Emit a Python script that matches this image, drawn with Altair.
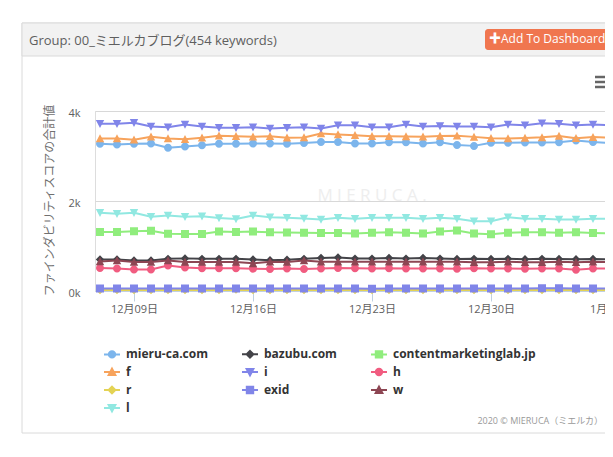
import altair as alt
import pandas as pd
from datetime import datetime, timezone, timedelta

FONT = "Open Sans, Noto Sans CJK JP, DejaVu Sans"

# ---------------- data ----------------
dates = pd.date_range("2019-12-07", "2020-01-06", freq="D").strftime("%Y-%m-%d").tolist()

names = ["mieru-ca.com", "bazubu.com", "contentmarketinglab.jp", "f", "i",
         "h", "r", "exid", "w", "l"]
colors = ["#7cb5ec", "#434348", "#90ed7d", "#f7a35c", "#8085e9",
          "#f15c80", "#e4d354", "#8085e8", "#8d4653", "#91e8e1"]
markers = ["circle", "diamond", "square", "triangle", "triangle-down",
           "circle", "diamond", "square", "triangle", "triangle-down"]

mieru = [3270, 3256, 3271, 3278, 3182, 3211, 3240, 3271, 3271, 3278, 3278,
         3271, 3290, 3310, 3310, 3280, 3280, 3305, 3305, 3280, 3305,
         3245, 3225, 3295, 3293, 3300, 3300, 3305, 3345, 3310, 3290]
bazubu = [700, 700, 680, 680, 715, 725, 715, 715, 715, 700, 685,
          695, 715, 735, 745, 720, 720, 735, 720, 735, 720,
          710, 715, 710, 715, 705, 715, 710, 705, 710, 700]
content = [1310, 1310, 1330, 1340, 1270, 1265, 1265, 1320, 1310, 1320, 1305,
           1300, 1295, 1290, 1290, 1280, 1295, 1305, 1295, 1280, 1320,
           1345, 1280, 1260, 1295, 1305, 1305, 1295, 1305, 1290, 1280]
s_f = [3389, 3389, 3360, 3427, 3389, 3373, 3404, 3449, 3440, 3427, 3440,
       3404, 3410, 3500, 3478, 3460, 3440, 3440, 3435, 3430, 3445,
       3450, 3425, 3395, 3390, 3400, 3415, 3445, 3395, 3420, 3410]
s_i = [3716, 3716, 3738, 3656, 3640, 3700, 3656, 3627, 3627, 3640, 3611,
       3627, 3640, 3611, 3684, 3684, 3640, 3640, 3700, 3656, 3665,
       3656, 3656, 3640, 3700, 3684, 3729, 3716, 3684, 3700, 3684]
s_h = [510, 500, 480, 480, 565, 520, 505, 505, 505, 495, 490,
       500, 490, 500, 510, 505, 500, 505, 500, 500, 500,
       495, 505, 500, 500, 495, 500, 500, 470, 500, 500]
s_r = [20, 20, 20, 20, 22, 22, 22, 22, 30, 22, 22,
       22, 22, 22, 20, 20, 20, 20, 20, 22, 22,
       22, 22, 22, 22, 22, 22, 20, 20, 20, 20]
s_exid = [55, 55, 55, 55, 58, 58, 58, 58, 55, 55, 58,
          58, 58, 58, 58, 58, 50, 58, 58, 58, 58,
          58, 58, 55, 58, 58, 60, 60, 58, 58, 58]
s_w = [655, 680, 645, 645, 680, 645, 645, 645, 645, 615, 650,
       645, 680, 650, 650, 650, 650, 650, 650, 650, 650,
       650, 640, 640, 650, 640, 640, 650, 640, 650, 640]
s_l = [1738, 1716, 1738, 1649, 1678, 1649, 1662, 1620, 1600, 1678, 1640,
       1627, 1610, 1589, 1627, 1604, 1627, 1627, 1627, 1604, 1627,
       1604, 1551, 1551, 1640, 1604, 1604, 1589, 1589, 1604, 1604]

series_values = [mieru, bazubu, content, s_f, s_i, s_h, s_r, s_exid, s_w, s_l]
tick_dates = ["2019-12-09", "2019-12-16", "2019-12-23", "2019-12-30", "2020-01-06"]

header_text = "Group: 00_ミエルカブログ(454 keywords)"
button_text = "✚Add To Dashboard"
y_title = "ファインダビリティスコアの合計値"
credit_text = "2020 © MIERUCA（ミエルカ）"
watermark_text = "M I E R U C A ."

# ---------------- build tables ----------------
rows = []
for name, vals in zip(names, series_values):
    for d, v in zip(dates, vals):
        rows.append({"date": d, "series": name, "value": v})
df = pd.DataFrame(rows)

# marker paths (marker + a horizontal stroke that only the legend draws)
LINE = " M-1,0H1"
PATHS = {
    "circle": "M-0.4,0A0.4,0.4,0,1,1,0.4,0A0.4,0.4,0,1,1,-0.4,0Z" + LINE,
    "diamond": "M0,-0.42L0.42,0L0,0.42L-0.42,0Z" + LINE,
    "square": "M-0.4,-0.4H0.4V0.4H-0.4Z" + LINE,
    "triangle": "M0,-0.42L0.42,0.38H-0.42Z" + LINE,
    "triangle-down": "M-0.42,-0.38H0.42L0,0.42Z" + LINE,
}
shape_range = [PATHS[m] for m in markers]


def ms(s):
    return int(datetime.strptime(s, "%Y-%m-%d").replace(tzinfo=timezone.utc).timestamp() * 1000)


PLOT_W, PLOT_H = 520, 180
PX_PER_DAY = 17.0
start = datetime(2019, 12, 7, tzinfo=timezone.utc) - timedelta(days=5 / PX_PER_DAY)
end = start + timedelta(days=PLOT_W / PX_PER_DAY)
x_domain = [int(start.timestamp() * 1000), int(end.timestamp() * 1000)]
tick_ms = [ms(t) for t in tick_dates]

LEG = alt.Legend(
    title=None, orient="none", legendX=8, legendY=234, direction="horizontal",
    columns=3, symbolSize=256, symbolStrokeWidth=2, symbolOpacity=1,
    labelFont=FONT, labelFontSize=12, labelFontWeight="bold", labelColor="#333333",
    labelOffset=5, columnPadding=30, rowPadding=1, padding=0, labelLimit=220,
)

x_enc = alt.X(
    "date:T",
    scale=alt.Scale(type="utc", domain=x_domain, nice=False),
    axis=alt.Axis(
        values=tick_ms,
        labelExpr="(utcmonth(datum.value)+1) + '月' + utcFormat(datum.value, '%d') + '日'",
        grid=False, domainColor="#C0D0E0", tickColor="#C0D0E0", tickSize=10,
        labelFontSize=11, labelColor="#606060", labelPadding=2, labelFont=FONT,
        labelFlush=False, labelOverlap=False, title=None,
    ),
)
y_enc = alt.Y(
    "value:Q",
    scale=alt.Scale(domain=[0, 4000], nice=False),
    axis=alt.Axis(
        values=[0, 2000, 4000], labelExpr="datum.value/1000 + 'k'",
        grid=True, gridColor="#D8D8D8", domain=False, ticks=False,
        labelPadding=15, labelFontSize=11, labelColor="#606060", labelFont=FONT,
        labelOffset=2,
        title=y_title, titleX=-46, titleY=89, titleAngle=270, titleFontSize=12,
        titleColor="#707070", titleFontWeight="normal", titleFont=FONT,
        titleAlign="center", titleBaseline="middle",
    ),
)
color_enc = alt.Color("series:N", scale=alt.Scale(domain=names, range=colors), legend=LEG)
shape_enc = alt.Shape("series:N", scale=alt.Scale(domain=names, range=shape_range), legend=LEG)

# ---------------- decorations ----------------
one = alt.Chart(pd.DataFrame({"k": [0]}))
deco = [
    one.mark_rect(fill="white", fillOpacity=0, stroke="#dadada", strokeWidth=1).encode(
        x=alt.value(-73), x2=alt.value(560), y=alt.value(-88), y2=alt.value(322)),
    one.mark_rect(fill="#f2f2f2", stroke="#dadada", strokeWidth=1).encode(
        x=alt.value(-73), x2=alt.value(560), y=alt.value(-88), y2=alt.value(-55)),
    one.mark_text(align="left", baseline="middle", font=FONT, fontSize=13, color="#5f5f5f").encode(
        x=alt.value(-66), y=alt.value(-70), text=alt.value(header_text)),
    one.mark_rect(fill="#f0764f", cornerRadius=3).encode(
        x=alt.value(390), x2=alt.value(560), y=alt.value(-82), y2=alt.value(-61)),
    one.mark_text(align="left", baseline="middle", font=FONT, fontSize=12, color="white").encode(
        x=alt.value(394), y=alt.value(-72), text=alt.value(button_text)),
    one.mark_rule(stroke="#666666", strokeWidth=2.5).encode(
        x=alt.value(500), x2=alt.value(520), y=alt.value(-34)),
    one.mark_rule(stroke="#666666", strokeWidth=2.5).encode(
        x=alt.value(500), x2=alt.value(520), y=alt.value(-29)),
    one.mark_rule(stroke="#666666", strokeWidth=2.5).encode(
        x=alt.value(500), x2=alt.value(520), y=alt.value(-24)),
    one.mark_text(align="center", baseline="middle", font=FONT, fontSize=17, color="#eeeeee").encode(
        x=alt.value(277), y=alt.value(85), text=alt.value(watermark_text)),
    one.mark_text(align="right", baseline="middle", font=FONT, fontSize=9, color="#999999").encode(
        x=alt.value(508), y=alt.value(310), text=alt.value(credit_text)),
]

# ---------------- series ----------------
base = alt.Chart(df)
series_layers = []
for idx, name in enumerate(names):
    b = base.transform_filter(alt.datum.series == name)
    line = b.mark_line(strokeWidth=2, strokeJoin="round", strokeCap="round").encode(
        x=x_enc, y=y_enc, color=color_enc)
    pts = b.mark_point(filled=True, size=400, opacity=1).encode(
        x=x_enc, y=y_enc, color=color_enc, shape=shape_enc)
    series_layers += [line, pts]

chart = alt.layer(*deco, *series_layers).properties(
    width=PLOT_W, height=PLOT_H,
    padding={"left": 87, "top": 103, "right": -10, "bottom": 153},
    autosize=alt.AutoSizeParams(type="none"),
    background="white",
).configure_view(stroke=None).configure(font=FONT)

chart.save("out.html", embed_options={"renderer": "svg", "actions": False})
